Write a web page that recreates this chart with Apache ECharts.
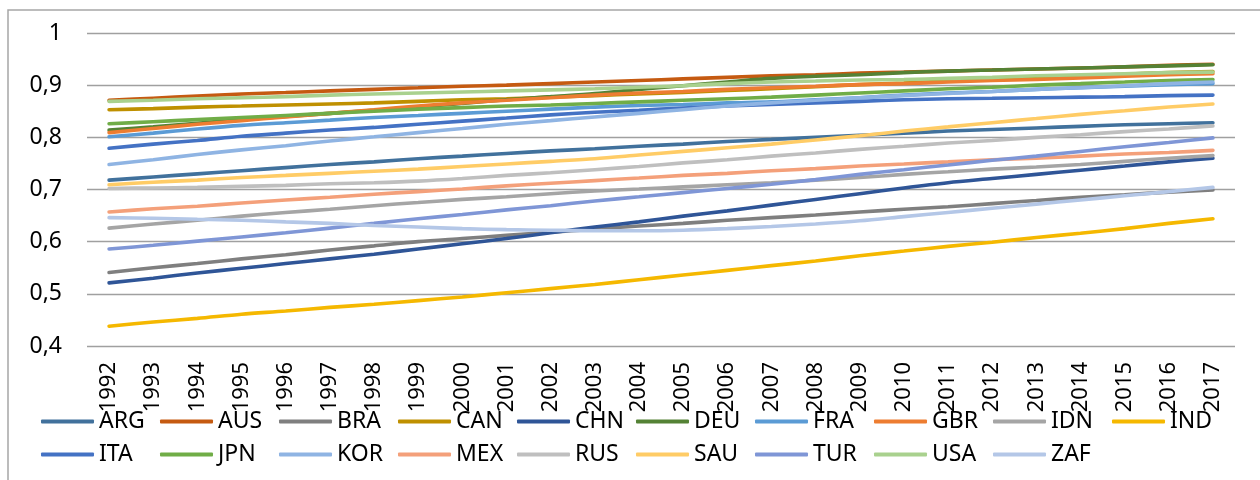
<!DOCTYPE html>
<html>
<head>
<meta charset="utf-8">
<script src="https://cdn.jsdelivr.net/npm/echarts@6/dist/echarts.min.js"></script>
<style>
html,body{margin:0;padding:0;background:#fff;}
#chart{width:1260px;height:480px;}
</style>
</head>
<body>
<div id="chart"></div>
<script>
const years = ['1992','1993','1994','1995','1996','1997','1998','1999','2000','2001','2002','2003','2004','2005','2006','2007','2008','2009','2010','2011','2012','2013','2014','2015','2016','2017'];
const yTicks = [0.4, 0.5, 0.6, 0.7, 0.8, 0.9, 1];

const ARG = [0.718,0.724,0.730,0.736,0.742,0.748,0.753,0.759,0.764,0.769,0.774,0.778,0.783,0.787,0.792,0.796,0.800,0.804,0.808,0.812,0.815,0.818,0.821,0.824,0.826,0.828];
const AUS = [0.871,0.875,0.879,0.883,0.886,0.889,0.892,0.895,0.898,0.900,0.903,0.906,0.909,0.912,0.915,0.918,0.920,0.923,0.925,0.927,0.929,0.931,0.933,0.935,0.938,0.940];
const BRA = [0.541,0.550,0.558,0.567,0.575,0.584,0.592,0.600,0.606,0.612,0.618,0.624,0.630,0.635,0.641,0.646,0.651,0.657,0.662,0.667,0.673,0.679,0.685,0.690,0.695,0.699];
const CAN = [0.853,0.855,0.858,0.860,0.862,0.864,0.866,0.869,0.872,0.874,0.877,0.880,0.883,0.886,0.890,0.893,0.897,0.901,0.904,0.908,0.911,0.915,0.918,0.921,0.924,0.926];
const CHN = [0.521,0.530,0.540,0.549,0.558,0.567,0.576,0.586,0.596,0.606,0.617,0.628,0.638,0.649,0.659,0.670,0.681,0.692,0.703,0.713,0.721,0.729,0.737,0.745,0.753,0.760];
const DEU = [0.814,0.820,0.827,0.834,0.840,0.846,0.852,0.858,0.865,0.872,0.878,0.884,0.892,0.899,0.906,0.913,0.917,0.920,0.924,0.927,0.929,0.931,0.933,0.935,0.937,0.939];
const FRA = [0.801,0.808,0.816,0.823,0.828,0.833,0.838,0.842,0.846,0.850,0.854,0.858,0.861,0.863,0.866,0.868,0.872,0.876,0.881,0.885,0.888,0.892,0.895,0.898,0.901,0.903];
const GBR = [0.809,0.817,0.825,0.832,0.839,0.846,0.853,0.860,0.866,0.871,0.876,0.881,0.885,0.888,0.892,0.895,0.898,0.901,0.903,0.906,0.909,0.911,0.914,0.917,0.920,0.922];
const IDN = [0.626,0.634,0.641,0.649,0.656,0.662,0.669,0.675,0.681,0.686,0.692,0.697,0.701,0.705,0.709,0.713,0.718,0.723,0.729,0.734,0.739,0.743,0.748,0.754,0.760,0.765];
const IND = [0.438,0.446,0.453,0.461,0.467,0.474,0.480,0.487,0.494,0.502,0.510,0.518,0.527,0.536,0.545,0.554,0.563,0.573,0.582,0.591,0.599,0.608,0.616,0.625,0.635,0.644];
const ITA = [0.779,0.787,0.794,0.802,0.808,0.814,0.819,0.825,0.831,0.837,0.843,0.848,0.852,0.856,0.860,0.863,0.866,0.869,0.872,0.874,0.875,0.876,0.877,0.878,0.880,0.881];
const JPN = [0.826,0.830,0.834,0.838,0.842,0.846,0.850,0.854,0.857,0.860,0.862,0.865,0.868,0.871,0.874,0.877,0.881,0.885,0.889,0.893,0.896,0.900,0.903,0.906,0.909,0.911];
const KOR = [0.748,0.757,0.767,0.776,0.784,0.793,0.801,0.809,0.817,0.825,0.832,0.839,0.846,0.853,0.860,0.866,0.871,0.876,0.880,0.884,0.888,0.892,0.895,0.899,0.903,0.906];
const MEX = [0.657,0.663,0.668,0.674,0.680,0.685,0.691,0.696,0.701,0.707,0.712,0.717,0.722,0.727,0.731,0.736,0.740,0.745,0.749,0.753,0.757,0.760,0.764,0.768,0.771,0.775];
const RUS = [0.702,0.703,0.704,0.706,0.708,0.711,0.713,0.716,0.721,0.727,0.732,0.738,0.744,0.751,0.757,0.764,0.770,0.777,0.783,0.789,0.794,0.800,0.805,0.811,0.816,0.822];
const SAU = [0.709,0.714,0.718,0.723,0.727,0.731,0.735,0.739,0.744,0.749,0.754,0.759,0.766,0.773,0.780,0.787,0.795,0.803,0.812,0.820,0.828,0.836,0.844,0.851,0.858,0.864];
const TUR = [0.586,0.593,0.601,0.609,0.617,0.626,0.635,0.644,0.652,0.661,0.669,0.678,0.686,0.694,0.702,0.710,0.719,0.729,0.738,0.747,0.756,0.764,0.773,0.782,0.790,0.799];
const USA = [0.869,0.871,0.874,0.876,0.878,0.881,0.883,0.885,0.887,0.889,0.891,0.893,0.896,0.899,0.903,0.906,0.908,0.910,0.911,0.913,0.915,0.918,0.920,0.922,0.924,0.925];
const ZAF = [0.646,0.645,0.643,0.641,0.638,0.635,0.631,0.628,0.625,0.623,0.622,0.621,0.621,0.622,0.625,0.629,0.634,0.640,0.648,0.656,0.664,0.672,0.680,0.688,0.696,0.704];

const seriesNames = ['ARG','AUS','BRA','CAN','CHN','DEU','FRA','GBR','IDN','IND','ITA','JPN','KOR','MEX','RUS','SAU','TUR','USA','ZAF'];
const seriesData = [ARG,AUS,BRA,CAN,CHN,DEU,FRA,GBR,IDN,IND,ITA,JPN,KOR,MEX,RUS,SAU,TUR,USA,ZAF];
const colors = ['#41719C','#C55A11','#7F7F7F','#BF9000','#2F5597','#548235','#5B9BD5','#ED7D31','#A5A5A5','#F5B800','#4472C4','#70AD47','#8FB4E3','#F4A07A','#BFBFBF','#FFCC66','#7F96D6','#A9D18E','#B4C7E7'];

const chart = echarts.init(document.getElementById('chart'), null, {renderer: 'canvas'});
const font = 'Noto Sans';

chart.setOption({
  animation: false,
  color: colors,
  graphic: [{
    type: 'rect',
    shape: {x: 8, y: 10, width: 1300, height: 520},
    style: {fill: 'none', stroke: '#A6A6A6', lineWidth: 1.5},
    silent: true
  }],
  grid: {left: 87, right: 25, top: 33, bottom: 134, containLabel: false},
  legend: {
    left: 41,
    top: 405,
    width: 1210,
    itemWidth: 53,
    itemHeight: 4,
    itemGap: 0,
    icon: 'roundRect',
    padding: 0,
    textStyle: {fontFamily: font, fontSize: 23, color: '#000', width: 61, lineHeight: 33, height: 33, overflow: 'none'},
    data: seriesNames
  },
  xAxis: {
    type: 'category',
    data: years,
    boundaryGap: true,
    axisLine: {show: false},
    axisTick: {show: false},
    axisLabel: {interval: 0, rotate: 90, margin: 16, fontFamily: font, fontSize: 22, color: '#000'}
  },
  yAxis: {
    type: 'value',
    min: yTicks[0],
    max: yTicks[yTicks.length - 1],
    interval: 0.1,
    axisLine: {show: false},
    axisTick: {show: false},
    splitLine: {lineStyle: {color: '#A0A0A0', width: 1.4}},
    axisLabel: {
      margin: 25,
      fontFamily: font,
      fontSize: 23,
      color: '#000',
      formatter: v => String(Math.round(v * 10) / 10).replace('.', ',')
    }
  },
  series: seriesNames.map((n, i) => ({
    name: n,
    type: 'line',
    data: seriesData[i],
    smooth: 0.3,
    showSymbol: false,
    symbol: 'none',
    lineStyle: {width: 3.6, cap: 'round'}
  }))
});
</script>
</body>
</html>
